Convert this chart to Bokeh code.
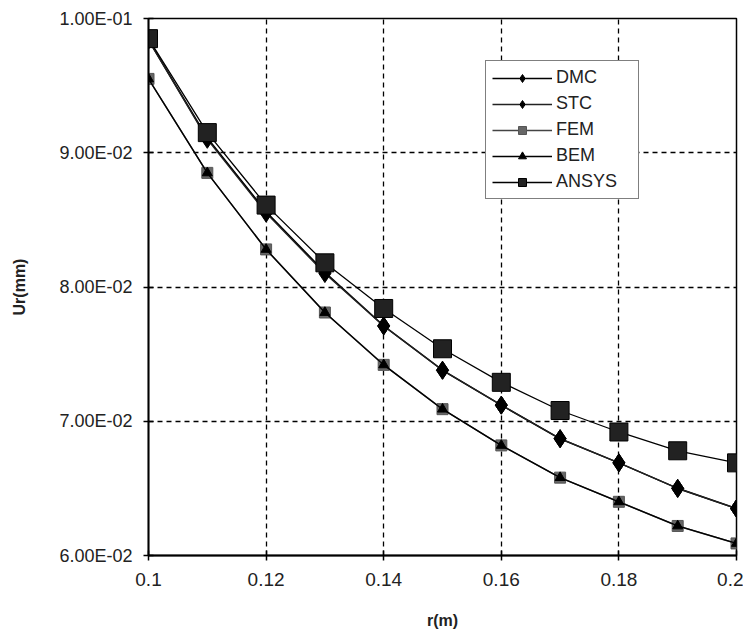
from bokeh.plotting import figure
from bokeh.models import CustomJSTickFormatter, FixedTicker, Range1d, Legend, LegendItem
from bokeh.embed import file_html
from bokeh.resources import INLINE

r = [0.10, 0.11, 0.12, 0.13, 0.14, 0.15, 0.16, 0.17, 0.18, 0.19, 0.20]
dmc = [0.0984, 0.0911, 0.0856, 0.0811, 0.0771, 0.0738, 0.0712, 0.0687, 0.0669, 0.0650, 0.0635]
stc = [0.0984, 0.0910, 0.0855, 0.0810, 0.0771, 0.0738, 0.0712, 0.0687, 0.0669, 0.0650, 0.0635]
fem = [0.0955, 0.0885, 0.0828, 0.0781, 0.0742, 0.0709, 0.0682, 0.0658, 0.0640, 0.0622, 0.0609]
bem = [0.0955, 0.0885, 0.0828, 0.0781, 0.0742, 0.0709, 0.0682, 0.0658, 0.0640, 0.0622, 0.0609]
ansys = [0.0985, 0.0915, 0.0861, 0.0818, 0.0784, 0.0754, 0.0729, 0.0708, 0.0692, 0.0678, 0.0669]

x_ticks = [0.1, 0.12, 0.14, 0.16, 0.18, 0.2]
y_ticks = [0.06, 0.07, 0.08, 0.09, 0.10]

FONT = "Liberation Sans"

p = figure(output_backend="svg", toolbar_location=None,
           width=743, height=633,
           x_range=Range1d(0.1, 0.2), y_range=Range1d(0.06, 0.10),
           min_border_left=148, min_border_right=7, min_border_top=18, min_border_bottom=78,
           background_fill_color="white", border_fill_color="white")
p.frame_width = 588
p.frame_height = 537

p.outline_line_color = "black"
p.outline_line_width = 1.5

for g in (p.xgrid, p.ygrid):
    g.grid_line_color = "black"
    g.grid_line_dash = "5 4"
    g.grid_line_width = 1.3

p.xaxis.ticker = FixedTicker(ticks=x_ticks)
p.yaxis.ticker = FixedTicker(ticks=y_ticks)
p.xaxis.formatter = CustomJSTickFormatter(code="return parseFloat(tick.toFixed(2)).toString();")
p.yaxis.formatter = CustomJSTickFormatter(code="""
var s = tick.toExponential(2).split('e');
var e = parseInt(s[1]);
var sign = e < 0 ? '-' : '+';
var a = Math.abs(e);
return s[0] + 'E' + sign + (a < 10 ? '0' : '') + a;
""")

for ax in (p.xaxis[0], p.yaxis[0]):
    ax.axis_line_color = "black"
    ax.axis_line_width = 1.8
    ax.major_tick_line_color = "black"
    ax.major_tick_line_width = 1.5
    ax.major_tick_in = 5
    ax.major_tick_out = 5
    ax.minor_tick_line_color = None
    ax.major_label_text_font = FONT
    ax.major_label_text_color = "#222222"
    ax.axis_label_text_font = FONT
    ax.axis_label_text_font_style = "bold"
    ax.axis_label_text_font_size = "16px"
    ax.axis_label_text_color = "#222222"

p.xaxis.major_label_text_font_size = "19px"
p.yaxis.major_label_text_font_size = "18px"
p.xaxis.axis_label = "r(m)"
p.yaxis.axis_label = "Ur(mm)"
p.xaxis.major_label_standoff = 12
p.xaxis.axis_label_standoff = 23
p.yaxis.major_label_standoff = 11
p.yaxis.axis_label_standoff = 28

l_dmc = p.line(r, dmc, line_color="black", line_width=1.6)
m_dmc = p.scatter(r, dmc, marker="diamond", size=18, fill_color="black", line_color="black")
l_stc = p.line(r, stc, line_color="#222222", line_width=1.3)
m_stc = p.scatter(r, stc, marker="diamond", size=18, fill_color="black", line_color="black")
l_fem = p.line(r, fem, line_color="#444444", line_width=1.6)
m_fem = p.scatter(r, fem, marker="square", size=11, fill_color="#666666", line_color="#555555")
l_bem = p.line(r, bem, line_color="black", line_width=1.3)
m_bem = p.scatter(r, bem, marker="triangle", size=10, fill_color="black", line_color="black")
l_ans = p.line(r, ansys, line_color="black", line_width=1.3)
m_ans = p.scatter(r, ansys, marker="square", size=18, fill_color="#222222", line_color="black")

legend = Legend(items=[
    LegendItem(label="DMC", renderers=[l_dmc, m_dmc]),
    LegendItem(label="STC", renderers=[l_stc, m_stc]),
    LegendItem(label="FEM", renderers=[l_fem, m_fem]),
    LegendItem(label="BEM", renderers=[l_bem, m_bem]),
    LegendItem(label="ANSYS", renderers=[l_ans, m_ans]),
], location=(337, 356))
legend.border_line_color = "black"
legend.border_line_width = 1.5
legend.background_fill_color = "white"
legend.background_fill_alpha = 1.0
legend.label_text_font = FONT
legend.label_text_font_size = "18px"
legend.label_text_color = "#222222"
legend.glyph_width = 60
legend.glyph_height = 20
legend.label_height = 20
legend.label_width = 76
legend.spacing = 5
legend.padding = 6
legend.margin = 0
legend.label_standoff = 4
p.add_layout(legend, "center")

open("out.html", "w").write(file_html(p, INLINE))
